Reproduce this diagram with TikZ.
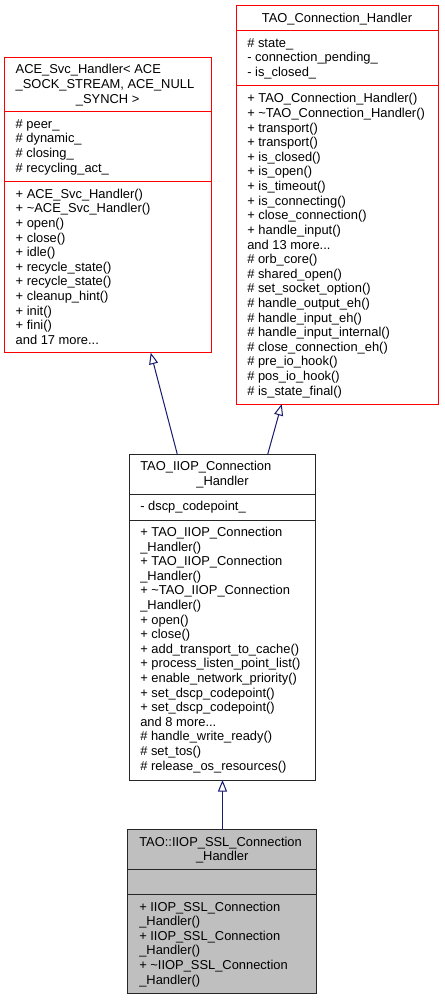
\documentclass[tikz,border=0pt]{standalone}
\usepackage{fontspec}
\setmainfont{Liberation Sans}
\usetikzlibrary{arrows.meta,calc}
\definecolor{edgeblue}{HTML}{191970}
\definecolor{boxred}{HTML}{FF0000}
\definecolor{selgray}{HTML}{BFBFBF}
\newcommand{\mydots}{...}
\newcommand{\tl}{\textasciitilde}
\begin{document}
\begin{tikzpicture}[x=1pt,y=-1pt,
  txt/.style={inner sep=0pt,outer sep=0pt,font=\fontsize{12.9}{14.6}\selectfont,text=black},
  redbox/.style={draw=boxred,line width=1pt,fill=white,inner sep=0pt,outer sep=0pt},
  blackbox/.style={draw=black!85,line width=1pt,fill=white,inner sep=0pt,outer sep=0pt},
  selbox/.style={draw=black!85,line width=1pt,fill=selgray,inner sep=0pt,outer sep=0pt},
  divred/.style={draw=boxred,line width=1pt},
  divblack/.style={draw=black!85,line width=1pt},
  inherit/.style={draw=edgeblue,line width=1pt,-{Triangle[open,length=11.5pt,width=9pt]}}
]
\useasboundingbox (0,0) rectangle (444,1000);
\fill[white] (0,0) rectangle (444,1000);

% ---------- boxes ----------
\node[redbox,minimum width=206.7pt,minimum height=295.4pt] (ace) at (107.65,205) {};
\node[redbox,minimum width=202pt,minimum height=398.3pt] (tch) at (337,204.85) {};
\node[blackbox,minimum width=186.4pt,minimum height=325.7pt] (iiop) at (222.5,617.15) {};
\node[selbox,minimum width=189pt,minimum height=163.5pt] (ssl) at (222.2,911.25) {};

% ---------- dividers ----------
\draw[divred] (ace.west |- 0,111.7) -- (ace.east |- 0,111.7);
\draw[divred] (ace.west |- 0,181.7) -- (ace.east |- 0,181.7);
\draw[divred] (tch.west |- 0,30.7) -- (tch.east |- 0,30.7);
\draw[divred] (tch.west |- 0,86) -- (tch.east |- 0,86);
\draw[divblack] (iiop.west |- 0,494) -- (iiop.east |- 0,494);
\draw[divblack] (iiop.west |- 0,520) -- (iiop.east |- 0,520);
\draw[divblack] (ssl.west |- 0,869.3) -- (ssl.east |- 0,869.3);
\draw[divblack] (ssl.west |- 0,894) -- (ssl.east |- 0,894);

% ---------- titles ----------
\node[txt,anchor=base west] (ace-t1) at (15.7,73.8) {ACE\_Svc\_Handler< ACE};
\node[txt,anchor=base west] (ace-t2) at (15.7,88.6) {\_SOCK\_STREAM, ACE\_NULL};
\node[txt,anchor=base] (ace-t3) at (107.65,103.4) {\_SYNCH >};
\node[txt,anchor=base] (tch-t1) at (337,22.2) {TAO\_Connection\_Handler};
\node[txt,anchor=base west] (iiop-t1) at (140.3,470.8) {TAO\_IIOP\_Connection};
\node[txt,anchor=base] (iiop-t2) at (222.5,485.4) {\_Handler};
\node[txt,anchor=base west] (ssl-t1) at (139.3,846) {TAO::IIOP\_SSL\_Connection};
\node[txt,anchor=base] (ssl-t2) at (222.2,860.6) {\_Handler};

% ---------- ACE members ----------
\foreach \t [count=\i] in {\# peer\_,\# dynamic\_,\# closing\_,\# recycling\_act\_}
  \node[txt,anchor=base west] (ace-a\i) at (15.7,{128.3+(\i-1)*14.6}) {\t};
\foreach \t [count=\i] in {+ ACE\_Svc\_Handler(),+ \tl ACE\_Svc\_Handler(),+ open(),+ close(),+ idle(),+ recycle\_state(),+ recycle\_state(),+ cleanup\_hint(),+ init(),+ fini(),and 17 more\mydots}
  \node[txt,anchor=base west] (ace-m\i) at (15.7,{198.3+(\i-1)*14.6}) {\t};

% ---------- TAO_Connection_Handler members ----------
\foreach \t [count=\i] in {\# state\_,- connection\_pending\_,- is\_closed\_}
  \node[txt,anchor=base west] (tch-a\i) at (247.3,{47.3+(\i-1)*14.6}) {\t};
\foreach \t [count=\i] in {+ TAO\_Connection\_Handler(),+ \tl TAO\_Connection\_Handler(),+ transport(),+ transport(),+ is\_closed(),+ is\_open(),+ is\_timeout(),+ is\_connecting(),+ close\_connection(),+ handle\_input(),and 13 more\mydots,\# orb\_core(),\# shared\_open(),\# set\_socket\_option(),\# handle\_output\_eh(),\# handle\_input\_eh(),\# handle\_input\_internal(),\# close\_connection\_eh(),\# pre\_io\_hook(),\# pos\_io\_hook(),\# is\_state\_final()}
  \node[txt,anchor=base west] (tch-m\i) at (247.3,{103+(\i-1)*14.6}) {\t};

% ---------- TAO_IIOP_Connection_Handler members ----------
\node[txt,anchor=base west] (iiop-a1) at (140.3,510.5) {- dscp\_codepoint\_};
\foreach \t [count=\i] in {+ TAO\_IIOP\_Connection,\_Handler(),+ TAO\_IIOP\_Connection,\_Handler(),+ \tl TAO\_IIOP\_Connection,\_Handler(),+ open(),+ close(),+ add\_transport\_to\_cache(),+ process\_listen\_point\_list(),+ enable\_network\_priority(),+ set\_dscp\_codepoint(),+ set\_dscp\_codepoint(),and 8 more\mydots,\# handle\_write\_ready(),\# set\_tos(),\# release\_os\_resources()}
  \node[txt,anchor=base west] (iiop-m\i) at (140.3,{536.5+(\i-1)*14.6}) {\t};

% ---------- SSL members ----------
\foreach \t [count=\i] in {+ IIOP\_SSL\_Connection,\_Handler(),+ IIOP\_SSL\_Connection,\_Handler(),+ \tl IIOP\_SSL\_Connection,\_Handler()}
  \node[txt,anchor=base west] (ssl-m\i) at (139.3,{911+(\i-1)*14.6}) {\t};

% ---------- inheritance edges ----------
\draw[inherit] ($(iiop.north west)+(48,0)$) -- ($(ace.south west)+(146.4,0)$);
\draw[inherit] ($(iiop.north west)+(138.4,0)$) -- ($(tch.south west)+(45.7,0)$);
\draw[inherit] (iiop.north |- ssl.north) -- (iiop.south);
\end{tikzpicture}
\end{document}
